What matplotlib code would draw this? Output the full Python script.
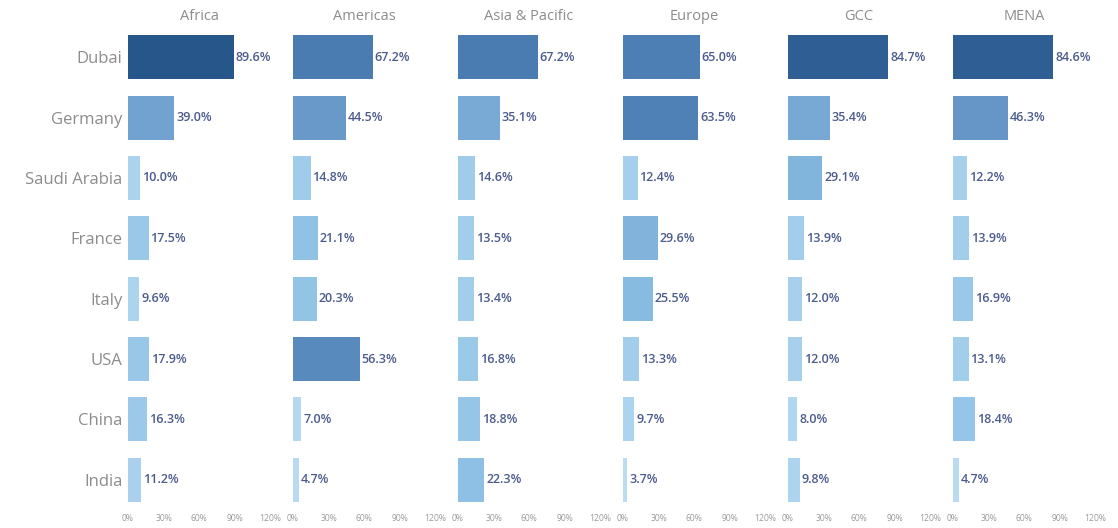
import matplotlib
matplotlib.use("Agg")
import matplotlib.pyplot as plt
from matplotlib.colors import LinearSegmentedColormap

# data
countries = ["Dubai", "Germany", "Saudi Arabia", "France", "Italy", "USA", "China", "India"]
regions = ["Africa", "Americas", "Asia & Pacific", "Europe", "GCC", "MENA"]
africa = [89.6, 39.0, 10.0, 17.5, 9.6, 17.9, 16.3, 11.2]
americas = [67.2, 44.5, 14.8, 21.1, 20.3, 56.3, 7.0, 4.7]
asia_pacific = [67.2, 35.1, 14.6, 13.5, 13.4, 16.8, 18.8, 22.3]
europe = [65.0, 63.5, 12.4, 29.6, 25.5, 13.3, 9.7, 3.7]
gcc = [84.7, 35.4, 29.1, 13.9, 12.0, 12.0, 8.0, 9.8]
mena = [84.6, 46.3, 12.2, 13.9, 16.9, 13.1, 18.4, 4.7]
xticks = [0, 30, 60, 90, 120]

series = [africa, americas, asia_pacific, europe, gcc, mena]

plt.rcParams['font.family'] = ['Open Sans', 'DejaVu Sans']

cmap = LinearSegmentedColormap.from_list(
    "tab_blue", ["#c4e2f5", "#8cc0e4", "#6898c8", "#4a7cb2", "#26558a"])

W, H = 1118, 528
fig = plt.figure(figsize=(W / 100, H / 100), dpi=100)

left0 = 128
panel_w = 165
px_per_pct = 1.185
top_px, bot_px = 27, 510

for i, (reg, vals) in enumerate(zip(regions, series)):
    l = left0 + panel_w * i
    ax = fig.add_axes([l / W, 1 - bot_px / H, panel_w / W, (bot_px - top_px) / H])
    y = list(range(len(countries)))
    colors = [cmap(min(v / 90.0, 1.0)) for v in vals]
    ax.barh(y, vals, height=0.73, color=colors)
    for yy, v in zip(y, vals):
        ax.text(v + 1.5, yy, f"{v:.1f}%", va='center', ha='left',
                fontsize=9, fontweight='semibold', color='#4b5b8e')
    ax.set_xlim(0, panel_w / px_per_pct)
    ax.set_ylim(len(countries) - 0.5, -0.5)
    ax.set_xticks(xticks)
    ax.set_xticklabels([f"{t}%" for t in xticks], fontsize=6.2, color='#9a9a9a')
    ax.tick_params(axis='x', length=0, pad=3)
    ax.tick_params(axis='y', length=0)
    for s in ax.spines.values():
        s.set_visible(False)
    if i == 0:
        ax.set_yticks(y)
        ax.set_yticklabels(countries, fontsize=12, color='#8c8c8c')
        ax.tick_params(axis='y', pad=4)
    else:
        ax.set_yticks([])
    # header centred over the 0-120% range
    fig.text((l + 120 * px_per_pct / 2) / W, 1 - 17 / H, reg, ha='center', va='center',
             fontsize=10.5, color='#8c8c8c')

fig.savefig("out.png", dpi=100)
